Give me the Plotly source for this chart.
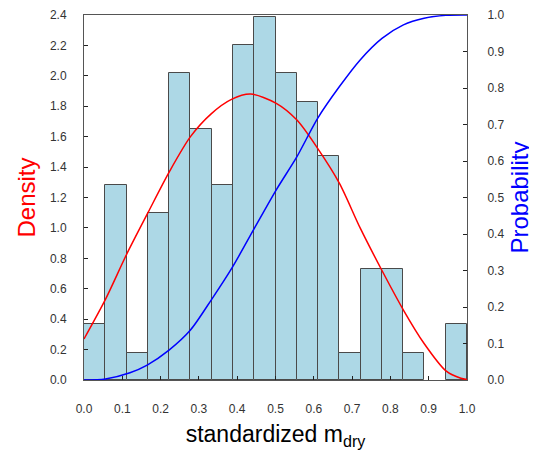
import numpy as np
import plotly.graph_objects as go

# Histogram (density) values, 18 equal bins on [0, 1]
bin_lo = 0.0
bin_hi = 1.0
density_bars = [0.37, 1.28, 0.18, 1.10, 2.02, 1.65, 1.28, 2.20, 2.39, 2.02,
                1.83, 1.47, 0.18, 0.73, 0.73, 0.18, 0.0, 0.37]

# Fitted density curve (red)
dens_x = [0.0, 0.056, 0.112, 0.167, 0.223, 0.278, 0.332, 0.385, 0.435,
          0.502, 0.556, 0.610, 0.667, 0.721, 0.778, 0.834, 0.888,
          0.945, 0.984, 1.0]
dens_y = [0.27, 0.53, 0.83, 1.10, 1.37, 1.60, 1.75, 1.845, 1.880,
          1.819, 1.709, 1.523, 1.293, 1.00, 0.72, 0.46, 0.24,
          0.06, 0.011, 0.003]

# Cumulative probability curve (blue)
cdf_x = [0.0, 0.056, 0.12, 0.165, 0.222, 0.278, 0.332, 0.388, 0.445, 0.502,
         0.556, 0.610, 0.667, 0.721, 0.778, 0.834, 0.888, 0.945, 1.0]
cdf_y = [0.0, 0.003, 0.020, 0.041, 0.082, 0.137, 0.219, 0.31, 0.416, 0.521,
         0.612, 0.717, 0.804, 0.877, 0.936, 0.973, 0.991, 0.999, 1.0]

x_ticks = [0.0, 0.1, 0.2, 0.3, 0.4, 0.5, 0.6, 0.7, 0.8, 0.9, 1.0]
y_left_ticks = [0.0, 0.2, 0.4, 0.6, 0.8, 1.0, 1.2, 1.4, 1.6, 1.8, 2.0, 2.2, 2.4]
y_right_ticks = [0.0, 0.1, 0.2, 0.3, 0.4, 0.5, 0.6, 0.7, 0.8, 0.9, 1.0]

n_bins = len(density_bars)
edges = np.linspace(bin_lo, bin_hi, n_bins + 1)
centers = (edges[:-1] + edges[1:]) / 2
width = edges[1] - edges[0]
bar_vals = [v if v > 0 else None for v in density_bars]

FONT = "Liberation Sans, Arial, sans-serif"
fig = go.Figure()
fig.add_trace(go.Bar(x=centers, y=bar_vals, width=width,
                     marker=dict(color="#ADD8E6", line=dict(color="#4a4a4a", width=1)),
                     showlegend=False))
fig.add_trace(go.Scatter(x=dens_x, y=dens_y, mode="lines",
                         line=dict(color="red", width=1.5, shape="spline", smoothing=0.8),
                         showlegend=False))
fig.add_trace(go.Scatter(x=cdf_x, y=cdf_y, mode="lines", yaxis="y2",
                         line=dict(color="blue", width=1.5, shape="spline", smoothing=0.8),
                         showlegend=False))

axis_common = dict(showgrid=False, zeroline=False, showline=True, linecolor="#555555", linewidth=1,
                   ticks="inside", ticklen=4, tickcolor="#222222", automargin=False,
                   tickfont=dict(family=FONT, size=12, color="#333333"))

# the page body adds an 8px offset, so the figure is sized to fit inside the window
fig.update_layout(
    width=529, height=443,
    margin=dict(l=76, r=70, t=7, b=71),
    paper_bgcolor="white", plot_bgcolor="white",
    bargap=0,
    xaxis=dict(range=[0, 1], tickvals=x_ticks, ticktext=[f"{v:.1f}" for v in x_ticks],
               mirror=True, ticklabelstandoff=18,
               title=dict(text="standardized m<sub>dry</sub>", font=dict(family=FONT, size=23, color="black"),
                          standoff=10),
               **axis_common),
    yaxis=dict(range=[0, 2.4], tickvals=y_left_ticks, ticktext=[f"{v:.1f}" for v in y_left_ticks],
               ticklabelstandoff=14,
               title=dict(text="Density", font=dict(family=FONT, size=24, color="red"), standoff=7),
               **axis_common),
    yaxis2=dict(range=[0, 1], overlaying="y", side="right", tickvals=y_right_ticks,
                ticktext=[f"{v:.1f}" for v in y_right_ticks], ticklabelstandoff=17,
                title=dict(text="Probability", font=dict(family=FONT, size=24, color="blue"), standoff=7),
                **axis_common),
)

fig.write_html("out.html")
